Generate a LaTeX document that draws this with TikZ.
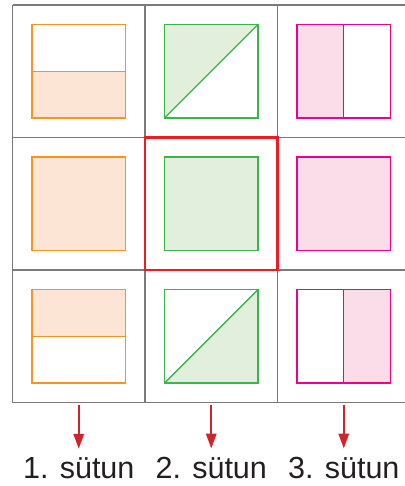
\documentclass[tikz,border=0pt]{standalone}
\usepackage{fontspec}
\setmainfont{Liberation Sans}
\usetikzlibrary{arrows.meta}

\definecolor{gridgray}{HTML}{7A7A7A}
\definecolor{markred}{HTML}{ED1C24}
\definecolor{arrowred}{HTML}{D2232A}
\definecolor{orangeline}{HTML}{F7941D}
\definecolor{orangefill}{HTML}{FDE5D5}
\definecolor{greenline}{HTML}{39B54A}
\definecolor{greenfill}{HTML}{E2EFDC}
\definecolor{pinkline}{HTML}{EC008C}
\definecolor{pinkfill}{HTML}{FBDDE9}
\definecolor{textgray}{HTML}{231F20}

\begin{document}
\begin{tikzpicture}[x=0.025cm, y=-0.025cm,
  gridline/.style={gridgray, line width=1.1pt},
  orangebox/.style={orangeline, line width=1pt},
  greenbox/.style={greenline, line width=1pt},
  pinkbox/.style={pinkline, line width=1pt},
  colarrow/.style={arrowred, line width=1.3pt,
    -{Triangle[width=0.26cm, length=0.37cm]}, shorten >=8*0.025cm},
  collabel/.style={textgray, inner sep=0pt, font=\fontsize{21.7}{26}\selectfont}]
  \useasboundingbox (0,0) rectangle (404,486);

  % Grid of 3x3 cells
  \draw[gridline] (12.5,5) -- (410,5);
  \draw[gridline] (12.5,137.5) -- (410,137.5);
  \draw[gridline] (12.5,270) -- (410,270);
  \draw[gridline] (12.5,402.5) -- (410,402.5);
  \draw[gridline] (12.5,5) -- (12.5,402.5);
  \draw[gridline] (145,5) -- (145,402.5);
  \draw[gridline] (277.5,5) -- (277.5,402.5);
  \draw[gridline] (410,5) -- (410,402.5);

  % Row 1
  \fill[orangefill] (32,71.25) rectangle (125.5,118);
  \draw[orangebox] (32,24.5) rectangle (125.5,118);
  \draw[orangebox] (32,71.25) -- (125.5,71.25);
  \fill[greenfill] (164.5,24.5) -- (258,24.5) -- (164.5,118) -- cycle;
  \draw[greenbox] (164.5,24.5) rectangle (258,118);
  \draw[greenbox] (164.5,118) -- (258,24.5);
  \fill[pinkfill] (297,24.5) rectangle (343.75,118);
  \draw[pinkbox] (297,24.5) rectangle (390.5,118);
  \draw[pinkbox] (343.75,24.5) -- (343.75,118);

  % Row 2 (middle cell marked red)
  \draw[markred, line width=1.8pt] (145,137.5) rectangle (277.5,270);
  \draw[orangebox, fill=orangefill] (32,157) rectangle (125.5,250.5);
  \draw[greenbox, fill=greenfill] (164.5,157) rectangle (258,250.5);
  \draw[pinkbox, fill=pinkfill] (297,157) rectangle (390.5,250.5);

  % Row 3
  \fill[orangefill] (32,289.5) rectangle (125.5,336.25);
  \draw[orangebox] (32,289.5) rectangle (125.5,383);
  \draw[orangebox] (32,336.25) -- (125.5,336.25);
  \fill[greenfill] (164.5,383) -- (258,383) -- (258,289.5) -- cycle;
  \draw[greenbox] (164.5,289.5) rectangle (258,383);
  \draw[greenbox] (164.5,383) -- (258,289.5);
  \fill[pinkfill] (343.75,289.5) rectangle (390.5,383);
  \draw[pinkbox] (297,289.5) rectangle (390.5,383);
  \draw[pinkbox] (343.75,289.5) -- (343.75,383);

  % Column labels
  \node[collabel, anchor=base] (sutun1) at (78.75,478) {1. sütun};
  \node[collabel, anchor=base] (sutun2) at (211.25,478) {2. sütun};
  \node[collabel, anchor=base] (sutun3) at (343.75,478) {3. sütun};

  \coordinate (top1) at (78.75,405);
  \coordinate (top2) at (211.25,405);
  \coordinate (top3) at (343.75,405);

  \draw[colarrow] (top1) -- (top1 |- sutun1.north);
  \draw[colarrow] (top2) -- (top2 |- sutun2.north);
  \draw[colarrow] (top3) -- (top3 |- sutun3.north);
\end{tikzpicture}
\end{document}
